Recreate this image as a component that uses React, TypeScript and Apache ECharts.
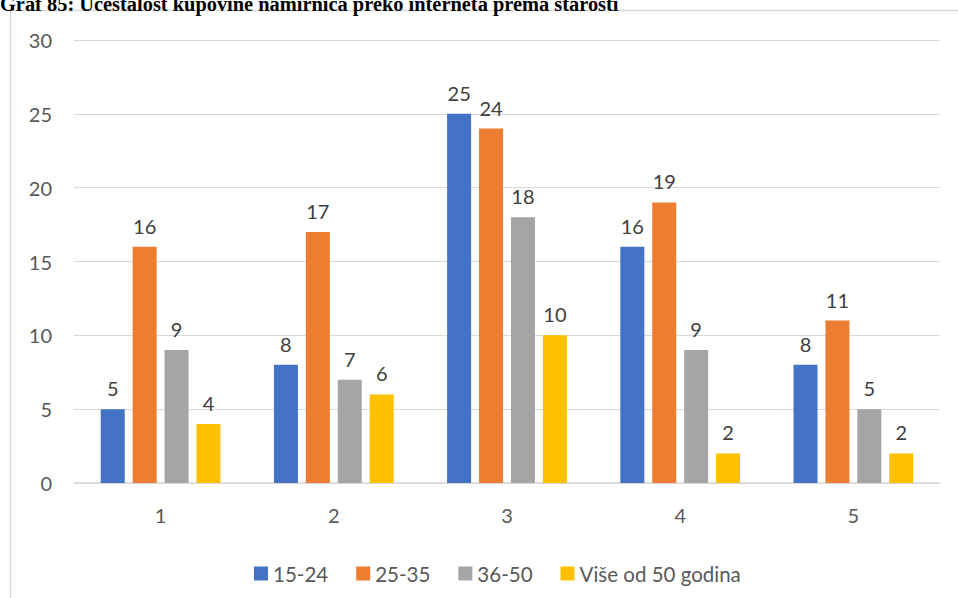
import React, { useEffect, useRef } from "react";
import * as echarts from "echarts";

const categories = ["1", "2", "3", "4", "5"];
const seriesNames = ["15-24", "25-35", "36-50", "Više od 50 godina"];
const s1524 = [5, 8, 25, 16, 8];
const s2535 = [16, 17, 24, 19, 11];
const s3650 = [9, 7, 18, 9, 5];
const s50plus = [4, 6, 10, 2, 2];
const colors = ["#4472C4", "#ED7D31", "#A5A5A5", "#FFC000"];
const titleText = "Graf 85: Učestalost kupovine namirnica preko interneta prema starosti";

export default function App() {
  const ref = useRef<HTMLDivElement>(null);
  useEffect(() => {
    if (!ref.current) return;
    const chart = echarts.init(ref.current, undefined, { renderer: "svg" });
    const font = "Lato, 'Open Sans', sans-serif";
    const data = [s1524, s2535, s3650, s50plus];
    chart.setOption({
      animation: false,
      backgroundColor: "#ffffff",
      textStyle: { fontFamily: font },
      graphic: [
        {
          type: "rect",
          shape: { x: 10.5, y: 10.5, width: 960, height: 600 },
          style: { fill: "none", stroke: "#d9d9d9", lineWidth: 1.5 },
          z: -1,
        },
        {
          type: "text",
          x: 0,
          y: -6,
          style: {
            text: titleText,
            font: "bold 20.4px 'Liberation Serif', 'Times New Roman', serif",
            fill: "#000000",
          },
        },
      ],
      legend: {
        data: seriesNames,
        top: 558,
        left: 249,
        itemWidth: 14,
        itemHeight: 14,
        itemGap: 28,
        icon: "rect",
        textStyle: { color: "#595959", fontSize: 20.5, fontFamily: font },
      },
      grid: { left: 74, right: 18, top: 40, bottom: 115 },
      xAxis: {
        type: "category",
        data: categories,
        axisLine: { lineStyle: { color: "#d9d9d9", width: 1.5 } },
        axisTick: { show: false },
        axisLabel: { color: "#595959", fontSize: 20, margin: 22, fontFamily: font },
      },
      yAxis: {
        type: "value",
        min: 0,
        max: 30,
        interval: 5,
        axisLine: { show: false },
        axisTick: { show: false },
        splitLine: { lineStyle: { color: "#d9d9d9", width: 1.2 } },
        axisLabel: { color: "#595959", fontSize: 20, margin: 22, fontFamily: font },
      },
      series: seriesNames.map((name, i) => ({
        name,
        type: "bar",
        data: data[i],
        barWidth: 24,
        barGap: "33%",
        itemStyle: { color: colors[i] },
        label: {
          show: true,
          position: "top",
          distance: 11,
          color: "#404040",
          fontSize: 20,
          fontFamily: font,
        },
      })),
    });
    return () => chart.dispose();
  }, []);
  return (
    <div
      ref={ref}
      style={{ position: "fixed", left: 0, top: 0, width: 958, height: 598 }}
    />
  );
}
